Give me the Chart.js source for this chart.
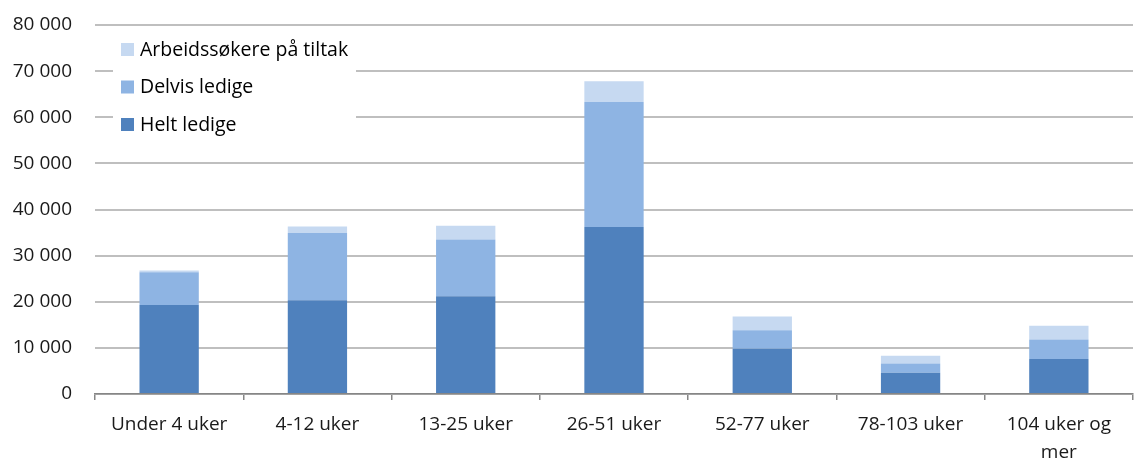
<!DOCTYPE html>
<html>
<head>
    <title>Ledighetsvarighet</title>
    <script src="https://cdn.jsdelivr.net/npm/chart.js"></script>
    <style>
        body { margin: 0; background: #fff; }
        #wrap { width: 1135px; height: 459px; }
    </style>
</head>
<body>
    <div id="wrap"><canvas id="durationChart"></canvas></div>
    <script>
        var categories = ['Under 4 uker', '4-12 uker', '13-25 uker', '26-51 uker', '52-77 uker', '78-103 uker', ['104 uker og', 'mer']];
        var heltLedige = [19300, 20300, 21200, 36200, 9800, 4600, 7600];
        var delvisLedige = [7100, 14600, 12300, 27100, 4000, 2000, 4200];
        var tiltak = [400, 1400, 3000, 4500, 3000, 1700, 3000];
        var yTicks = [0, 10000, 20000, 30000, 40000, 50000, 60000, 70000, 80000];

        var fontFamily = '"Open Sans", sans-serif';

        function formatNumber(v) {
            return String(v).replace(/\B(?=(\d{3})+(?!\d))/g, ' ');
        }

        // legend drawn inside the plot, with a white box over the grid lines
        var insideLegend = {
            id: 'insideLegend',
            afterDatasetsDraw: function(chart) {
                var ctx = chart.ctx;
                var area = chart.chartArea;
                var x0 = area.left + 18;
                ctx.save();
                ctx.fillStyle = '#ffffff';
                ctx.fillRect(x0, area.top + 6, 243, 108);
                var items = chart.data.datasets.slice().reverse();
                ctx.font = '19.5px ' + fontFamily;
                ctx.textBaseline = 'middle';
                items.forEach(function(ds, i) {
                    var cy = area.top + 24 + i * 37.5;
                    ctx.fillStyle = ds.backgroundColor;
                    ctx.fillRect(x0 + 8, cy - 6, 13, 13);
                    ctx.fillStyle = '#000000';
                    ctx.fillText(ds.label, x0 + 27, cy + 1);
                });
                ctx.restore();
            }
        };

        var ctx = document.getElementById('durationChart').getContext('2d');
        var durationChart = new Chart(ctx, {
            type: 'bar',
            data: {
                labels: categories,
                datasets: [{
                    label: 'Helt ledige',
                    data: heltLedige,
                    backgroundColor: '#4f81bd'
                }, {
                    label: 'Delvis ledige',
                    data: delvisLedige,
                    backgroundColor: '#8eb4e3'
                }, {
                    label: 'Arbeidssøkere på tiltak',
                    data: tiltak,
                    backgroundColor: '#c6d9f1'
                }]
            },
            options: {
                responsive: true,
                maintainAspectRatio: false,
                animation: false,
                barPercentage: 0.4,
                categoryPercentage: 1,
                layout: { padding: { top: 25, right: 2, left: 0, bottom: 0 } },
                plugins: {
                    legend: { display: false },
                    tooltip: { enabled: false }
                },
                scales: {
                    x: {
                        stacked: true,
                        afterFit: function(scale) { scale.height = 65; },
                        grid: {
                            drawOnChartArea: false,
                            drawTicks: true,
                            tickLength: 6,
                            color: '#868686',
                            lineWidth: 1.5
                        },
                        border: { display: true, color: '#868686', width: 1.5 },
                        ticks: {
                            color: '#1a1a1a',
                            font: { family: fontFamily, size: 19, lineHeight: 1.5 },
                            padding: 10,
                            maxRotation: 0
                        }
                    },
                    y: {
                        stacked: true,
                        min: 0,
                        max: 80000,
                        afterBuildTicks: function(scale) {
                            scale.ticks = yTicks.map(function(v) { return { value: v }; });
                        },
                        afterFit: function(scale) { scale.width = 95; },
                        grid: {
                            color: '#bfbfbf',
                            lineWidth: 2,
                            drawTicks: true,
                            tickLength: 21,
                            tickColor: 'rgba(0,0,0,0)'
                        },
                        border: { display: false },
                        ticks: {
                            color: '#1a1a1a',
                            font: { family: fontFamily, size: 19 },
                            padding: 2,
                            callback: function(v) { return formatNumber(v); }
                        }
                    }
                }
            },
            plugins: [insideLegend]
        });
    </script>
</body>
</html>
